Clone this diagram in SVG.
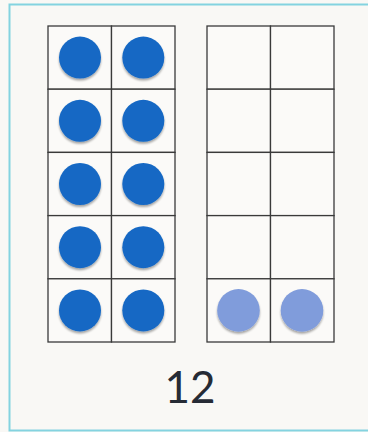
<svg xmlns="http://www.w3.org/2000/svg" width="368" height="432" viewBox="0 0 368 432">
<defs>
<filter id="sh" x="-30%" y="-30%" width="160%" height="170%">
<feGaussianBlur in="SourceAlpha" stdDeviation="1.2"/>
<feOffset dx="0" dy="1.5" result="b"/>
<feComponentTransfer><feFuncA type="linear" slope="0.35"/></feComponentTransfer>
<feMerge><feMergeNode/><feMergeNode in="SourceGraphic"/></feMerge>
</filter>
</defs>
<style>
.cell{fill:#fbfaf8;stroke:#3a3a3a;stroke-width:1.3}
.full{fill:#1468c4;filter:url(#sh)}
.ghost{fill:#809cdb;filter:url(#sh)}
.lbl{font-family:Lato,"Open Sans",sans-serif;font-size:44px;font-weight:400;fill:#262b35}
</style>
<rect x="0" y="0" width="368" height="432" fill="#f9f8f5"/>
<rect id="border" x="9.5" y="4.5" width="370" height="426" fill="#f9f8f5" stroke="#84d3e0" stroke-width="2"/>
<g id="frameA">
<rect class="cell" x="48" y="26" width="63.5" height="63.2"/>
<rect class="cell" x="111.5" y="26" width="63.5" height="63.2"/>
<rect class="cell" x="48" y="89.2" width="63.5" height="63.2"/>
<rect class="cell" x="111.5" y="89.2" width="63.5" height="63.2"/>
<rect class="cell" x="48" y="152.4" width="63.5" height="63.2"/>
<rect class="cell" x="111.5" y="152.4" width="63.5" height="63.2"/>
<rect class="cell" x="48" y="215.6" width="63.5" height="63.2"/>
<rect class="cell" x="111.5" y="215.6" width="63.5" height="63.2"/>
<rect class="cell" x="48" y="278.8" width="63.5" height="63.2"/>
<rect class="cell" x="111.5" y="278.8" width="63.5" height="63.2"/>
<circle class="full" cx="80" cy="57.6" r="21"/>
<circle class="full" cx="143.3" cy="57.6" r="21"/>
<circle class="full" cx="80" cy="120.8" r="21"/>
<circle class="full" cx="143.3" cy="120.8" r="21"/>
<circle class="full" cx="80" cy="184" r="21"/>
<circle class="full" cx="143.3" cy="184" r="21"/>
<circle class="full" cx="80" cy="247.2" r="21"/>
<circle class="full" cx="143.3" cy="247.2" r="21"/>
<circle class="full" cx="80" cy="310.4" r="21"/>
<circle class="full" cx="143.3" cy="310.4" r="21"/>
</g>
<g id="frameB">
<rect class="cell" x="207" y="26" width="63.5" height="63.2"/>
<rect class="cell" x="270.5" y="26" width="63.5" height="63.2"/>
<rect class="cell" x="207" y="89.2" width="63.5" height="63.2"/>
<rect class="cell" x="270.5" y="89.2" width="63.5" height="63.2"/>
<rect class="cell" x="207" y="152.4" width="63.5" height="63.2"/>
<rect class="cell" x="270.5" y="152.4" width="63.5" height="63.2"/>
<rect class="cell" x="207" y="215.6" width="63.5" height="63.2"/>
<rect class="cell" x="270.5" y="215.6" width="63.5" height="63.2"/>
<rect class="cell" x="207" y="278.8" width="63.5" height="63.2"/>
<rect class="cell" x="270.5" y="278.8" width="63.5" height="63.2"/>
<circle class="ghost" cx="238.5" cy="310.4" r="21.3"/>
<circle class="ghost" cx="302" cy="310.4" r="21.3"/>
</g>
<g id="label">
<text class="lbl" x="190" y="403" text-anchor="middle">12</text>
</g>
<g id="connectors"/>
</svg>
